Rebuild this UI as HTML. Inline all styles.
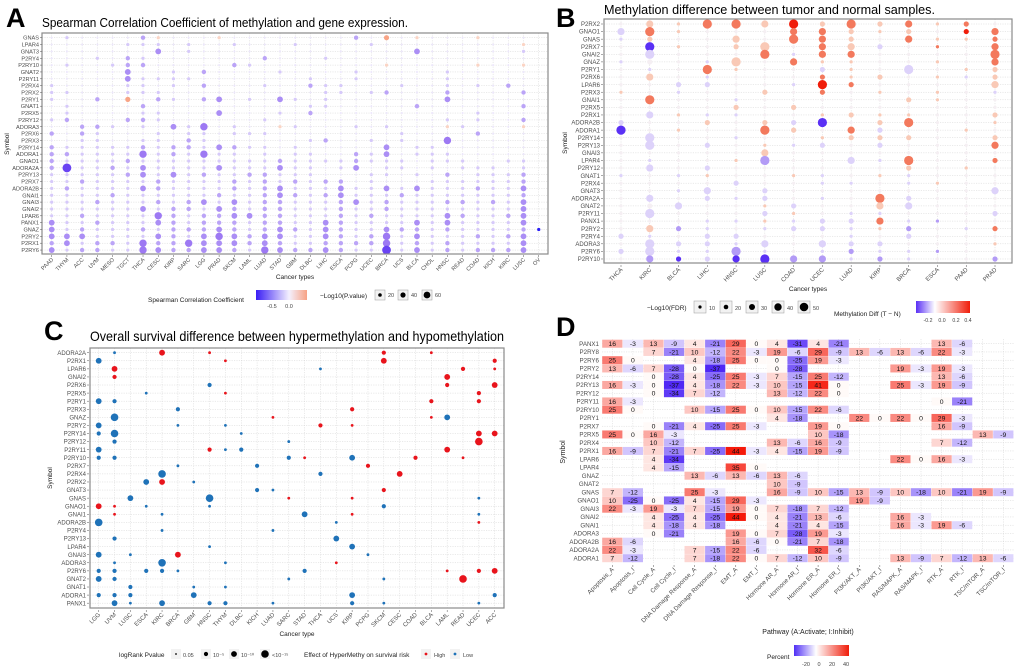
<!DOCTYPE html>
<html><head><meta charset="utf-8">
<style>
html,body{margin:0;padding:0;background:#fff;}
svg{display:block;font-family:"Liberation Sans",Arial,sans-serif;}
</style></head>
<body>
<svg id="fig" width="1020" height="670" viewBox="0 0 1020 670" xmlns="http://www.w3.org/2000/svg">
<defs>
<linearGradient id="gA" x1="0" x2="1" y1="0" y2="0"><stop offset="0" stop-color="#3a1ef5"/><stop offset="0.65" stop-color="#f4f0fe"/><stop offset="1" stop-color="#f7a284"/></linearGradient>
<linearGradient id="gB" x1="0" x2="1" y1="0" y2="0"><stop offset="0" stop-color="#5a30f5"/><stop offset="0.35" stop-color="#ffffff"/><stop offset="1" stop-color="#f01d0a"/></linearGradient>
<linearGradient id="gD" x1="0" x2="1" y1="0" y2="0"><stop offset="0" stop-color="#5030f5"/><stop offset="0.4" stop-color="#ffffff"/><stop offset="1" stop-color="#f01d0a"/></linearGradient>
</defs>
</svg>
<script>
// ---------- Panel A data ----------
const aCancers=["PAAD","THYM","ACC","UVM","MESO","TGCT","THCA","CESC","KIRP","SARC","LGG","PRAD","SKCM","LAML","LUAD","STAD","GBM","DLBC","LIHC","ESCA","PCPG","UCEC","BRCA","UCS","BLCA","CHOL","HNSC","READ","COAD","KICH","KIRC","LUSC","OV"];
const aGenes=["GNAS","LPAR4","GNAT3","P2RY4","P2RY10","GNAT2","P2RY11","P2RX4","P2RX2","P2RY1","GNAT1","P2RX5","P2RY12","ADORA3","P2RX6","P2RX3","P2RY14","ADORA1","GNAO1","ADORA2A","P2RY13","P2RX7","ADORA2B","GNAI1","GNAI3","GNAI2","LPAR6","PANX1","GNAZ","P2RY2","P2RX1","P2RY6"];
const aCells=[
"0100002r000"+"r0000000020"+"R0r000r000.",
"00000111010"+"01000100001"+"000000000r.",
"00000003010"+"00000000000"+"0030000001.",
"00010210000"+"00020001000"+"0000000000.",
"01001220000"+"02100000000"+"r00000r00r.",
"00000300102"+"00001000010"+"0000100000.",
"00000311110"+"00000010010"+"0000100000.",
"10000110102"+"00010021100"+"0100101020.",
"11000111000"+"00000001101"+"2000200002.",
"10020R02102"+"30103101000"+"0000300000.",
"01000020000"+"00000011000"+"0020000002.",
"01000011000"+"30001020000"+"0000001000.",
"12000221000"+"00010000000"+"0000101002.",
"00221010314"+"0100r100010"+"1000r1000r.",
"20210001011"+"01110000000"+"0100002000.",
"00110011021"+"00000012001"+"0100400000.",
"21111121221"+"32110100000"+"3011000000.",
"22111141214"+"11010110021"+"3011100000.",
"21111211111"+"11112111121"+"1101110011.",
"25112131111"+"31113110130"+"1101011101.",
"11111231312"+"11221110001"+"1010201112.",
"11211112111"+"12121212201"+"0001111112.",
"12111132111"+"12123111311"+"3131112113.",
"11112111111"+"21123212311"+"1211111112.",
"11121112123"+"13122111231"+"2111221213.",
"11111131221"+"32122111211"+"2111111113.",
"11211114212"+"23322111212"+"1111321123.",
"31121113212"+"22122113211"+"1131311113.",
"31211121222"+"32123213211"+"322121111 2D".replace(" ",""),
"33311113213"+"43233113212"+"4131112123.",
"23122142243"+"33232112222"+"4121211113.",
"31221143223"+"32143223211"+"5131212223."
];
// ---------- Panel B data ----------
const bCancers=["THCA","KIRC","BLCA","LIHC","HNSC","LUSC","COAD","UCEC","LUAD","KIRP","BRCA","ESCA","PAAD","PRAD"];
const bGenes=["P2RX2","GNAO1","GNAS","P2RX7","GNAI2","GNAZ","P2RY1","P2RX6","LPAR6","P2RX3","GNAI1","P2RX5","P2RX1","ADORA2B","ADORA1","P2RY14","P2RY13","GNAI3","LPAR4","P2RY12","GNAT1","P2RX4","GNAT3","ADORA2A","GNAT2","P2RY11","PANX1","P2RY2","P2RY4","ADORA3","P2RY6","P2RY10"];
const bCells=[
"w1p3p1r4r4p3R4p2r4p2r3p1r2w1",
"l3r4p1w1w1w1r3r3p2p1p2w1R2r3",
"l1p2w1w1p3w1r4r3p2w1r3p1p1r2",
"w1B4p1w1p2p4w1r3p3l2w1r1w1r3",
"w1l4w1w1w1r4l1r3r3w1w1w1w1r4",
"l1w2w1l1p4w1r3p1p1w1w1p1w1r3",
"w1l1w1r4p1w1w1l2p1w1l4w1p1p2",
"w1p3w1l1w1w1w1r2p1p2w1p1l1p2",
"w1w1l2l2w1w1l1R4r2w1w1w1w1p3",
"p1w1l1w1w1p2w1r2w1p1w1p1w1l1",
"w1r4w1w1l1w1w1w1w1w1p2p1w1w1",
"w1w1w1w1p2w1p2w1w1w1w1w1w1w1",
"w1l3p1l1l1w1w1p1p2p1p1w1w1p2",
"l2w1w1p2w1p2l2B4w1p2r4w1w1p1",
"B4w1p1w1w1r4p2w1r3l2w1w1p1w1",
"w1l4w1w1l1w1w1p1p2p2p2w1w1p2",
"w1l4w1l2w1p1l1l2w1l2w1w1w1r3",
"w1w1w1w1w1p3w1w1w1w1w1w1w1w1",
"w1l1w1w1p1b4w1w1l3l1r4w1w1r2",
"w1l3w1l2w1w1w1w1w1w1p2w1p1w1",
"l1w1l1p1w1w1p1l1w1p1l1w1w1w1",
"w1w1w1w1l2w1w1l1l1w1l1p1w1w1",
"w1w1l1l3w1l2w1w1w1w1w1w1w1l3",
"w1l3w1l2l1l2w1l1w1r4l2w1w1w1",
"w1w2l3w1w1p1l2w1w1p3l3w1w1w1",
"w1l4w1w1w1l2p1w1l1l1w1w1w1l2",
"w1w1w1l1l1p1l1l2l2r3l1b1w1w1",
"w1p3b2l1w1l1l2l2l1p1b2w1l1r2",
"l2l1w1l2l2w1w1w1l1w1l2w1w1w1",
"w1l4l2l2l1l3w1l3l2l2w1w1w1p1",
"l2l4l1l1b4l1w1l1b2l1l1b1w1w1",
"w1b3B2l2B3B4b3b3l1b2l1w1w1b2"
];
// ---------- Panel C data ----------
const cCancers=["LGG","UVM","LUSC","ESCA","KIRC","BRCA","GBM","HNSC","THYM","DLBC","KICH","LUAD","SARC","STAD","THCA","UCS","KIRP","PCPG","SKCM","CESC","COAD","BLCA","LAML","READ","UCEC","ACC"];
const cGenes=["ADORA2A","P2RX1","LPAR6","GNAI2","P2RX6","P2RX5","P2RY1","P2RX3","GNAZ","P2RY2","P2RY14","P2RY12","P2RY11","P2RY10","P2RX7","P2RX4","P2RX2","GNAT3","GNAS","GNAO1","GNAI1","ADORA2B","P2RY4","P2RY13","LPAR4","GNAI3","ADORA3","P2RY6","GNAT2","GNAT1","ADORA1","PANX1"];
const cPoints=[
"ADORA2A UVM b1","ADORA2A KIRC r3","ADORA2A HNSC r1","ADORA2A SKCM r2","ADORA2A BLCA r1",
"P2RX1 LGG b3","P2RX1 THYM r1","P2RX1 SKCM r3","P2RX1 ACC r2",
"LPAR6 UVM r3","LPAR6 THCA b1","LPAR6 READ r2","LPAR6 ACC r1",
"GNAI2 UVM r2","GNAI2 LAML r3",
"P2RX6 HNSC b2","P2RX6 LAML r2","P2RX6 ACC r3",
"P2RX5 ESCA b1","P2RX5 THYM r1","P2RX5 UCEC r2",
"P2RY1 LGG b3","P2RY1 UVM b2","P2RY1 BLCA r2","P2RY1 UCEC r2",
"P2RX3 BRCA b2","P2RX3 KIRP r2",
"GNAZ UVM b4","GNAZ LUAD r1","GNAZ BLCA r1","GNAZ LAML b3",
"P2RY2 LGG b3","P2RY2 BRCA b1","P2RY2 THYM b1","P2RY2 THCA r2","P2RY2 KIRP r1",
"P2RY14 LGG b2","P2RY14 UVM b4","P2RY14 DLBC b1","P2RY14 UCEC r3","P2RY14 ACC r3",
"P2RY12 UVM b2","P2RY12 SARC b1","P2RY12 UCEC r4",
"P2RY11 LGG b3","P2RY11 HNSC r2","P2RY11 THYM b1","P2RY11 DLBC b2","P2RY11 LAML r3",
"P2RY10 LGG b2","P2RY10 UVM b2","P2RY10 SARC b2","P2RY10 STAD r1","P2RY10 KIRP b3","P2RY10 COAD r2","P2RY10 READ r1",
"P2RX7 BRCA b1","P2RX7 KICH b2","P2RX7 PCPG r2",
"P2RX4 KIRC b4","P2RX4 THCA b2","P2RX4 CESC r3",
"P2RX2 ESCA b3","P2RX2 KIRC r3","P2RX2 GBM b1",
"GNAT3 KICH b2","GNAT3 LUAD b1","GNAT3 SKCM r2",
"GNAS LUSC b3","GNAS HNSC b4","GNAS SARC r1","GNAS KIRP r1","GNAS UCEC b1",
"GNAO1 LGG r3","GNAO1 UVM r1","GNAO1 ESCA b1","GNAO1 HNSC b1","GNAO1 SKCM b2",
"GNAI1 UVM r1","GNAI1 KIRC b1","GNAI1 STAD b3","GNAI1 KIRP r1","GNAI1 UCEC b1",
"ADORA2B LGG b4","ADORA2B UCS b1","ADORA2B UCEC r1",
"P2RY4 KIRC b1","P2RY4 LUAD b1",
"P2RY13 UVM b2","P2RY13 UCS b3",
"LPAR4 HNSC b1","LPAR4 KIRP b3",
"GNAI3 LGG b3","GNAI3 LUSC b1","GNAI3 BRCA r3","GNAI3 PCPG b1",
"ADORA3 UVM b1","ADORA3 KIRC b4","ADORA3 THYM b1","ADORA3 UCS r1",
"P2RY6 LGG b2","P2RY6 UVM b2","P2RY6 ESCA b2","P2RY6 KIRC b2","P2RY6 BRCA b1","P2RY6 STAD b2","P2RY6 LAML r1","P2RY6 UCEC r2","P2RY6 ACC r3",
"GNAT2 LGG b3","GNAT2 UVM b2","GNAT2 SARC b1","GNAT2 SKCM b1","GNAT2 READ r4",
"GNAT1 LUSC b2","GNAT1 GBM b1","GNAT1 THYM b1",
"ADORA1 LGG b2","ADORA1 UVM b2","ADORA1 LUSC b2","ADORA1 GBM b3","ADORA1 KIRP b3","ADORA1 ACC b2",
"PANX1 UVM b3","PANX1 LUSC b1","PANX1 KIRC b3","PANX1 HNSC b2","PANX1 THYM b2","PANX1 LUAD b1","PANX1 KIRP b2","PANX1 SKCM b1","PANX1 UCEC b1"
];
// ---------- Panel D data ----------
const dPathways=["Apoptosis_A","Apoptosis_I","Cell Cycle_A","Cell Cycle_I","DNA Damage Response_A","DNA Damage Response_I","EMT_A","EMT_I","Hormone AR_A","Hormone AR_I","Hormone ER_A","Hormone ER_I","PI3K/AKT_A","PI3K/AKT_I","RAS/MAPK_A","RAS/MAPK_I","RTK_A","RTK_I","TSC/mTOR_A","TSC/mTOR_I"];
const dGenes=["PANX1","P2RY8","P2RY6","P2RY2","P2RY14","P2RY13","P2RY12","P2RY11","P2RY10","P2RY1","P2RX7","P2RX5","P2RX4","P2RX1","LPAR6","LPAR4","GNAZ","GNAT2","GNAS","GNAO1","GNAI3","GNAI2","GNAI1","ADORA3","ADORA2B","ADORA2A","ADORA1"];
const N=null;
const dValues=[
[16,-3,13,-9,4,-21,29,0,4,-31,4,-21,N,N,N,N,13,-6,N,N],
[N,N,7,-21,10,-12,22,-3,19,-6,29,-9,13,-6,13,-6,22,-3,N,N],
[25,0,N,N,4,-18,25,0,0,-25,19,-3,N,N,N,N,N,N,N,N],
[13,-6,7,-28,0,-37,N,N,0,-28,N,N,N,N,19,-3,19,-3,N,N],
[N,N,0,-28,4,-25,25,-3,7,-15,25,-12,N,N,N,N,13,-6,N,N],
[16,-3,0,-37,4,-18,22,-3,10,-15,41,0,N,N,25,-3,19,-9,N,N],
[N,N,0,-34,7,-12,N,N,13,-12,22,0,N,N,N,N,N,N,N,N],
[16,-3,N,N,N,N,N,N,N,N,N,N,N,N,N,N,0,-21,N,N],
[25,0,N,N,10,-15,25,0,10,-15,22,-6,N,N,N,N,N,N,N,N],
[N,N,N,N,N,N,N,N,4,-18,N,N,22,0,22,0,29,-3,N,N],
[N,N,0,-21,4,-25,25,-3,N,N,19,0,N,N,N,N,16,-9,N,N],
[25,0,16,-3,N,N,N,N,N,N,10,-18,N,N,N,N,N,N,13,-9],
[N,N,10,-12,N,N,N,N,13,-6,16,-9,N,N,N,N,7,-12,N,N],
[16,-9,7,-21,7,-25,44,-3,4,-15,19,-9,N,N,N,N,N,N,N,N],
[N,N,4,-34,N,N,N,N,N,N,N,N,N,N,22,0,16,-3,N,N],
[N,N,4,-15,N,N,35,0,N,N,N,N,N,N,N,N,N,N,N,N],
[N,N,N,N,13,-6,13,-6,13,-6,N,N,N,N,N,N,N,N,N,N],
[N,N,N,N,N,N,N,N,10,-9,N,N,N,N,N,N,N,N,N,N],
[7,-12,N,N,25,-3,N,N,16,-9,10,-15,13,-9,10,-18,10,-21,19,-9],
[10,-25,0,-25,4,-15,29,-3,N,N,N,N,19,-9,N,N,N,N,N,N],
[22,-3,19,-3,7,-15,19,0,7,-18,7,-12,N,N,N,N,N,N,N,N],
[N,N,4,-25,4,-25,44,0,4,-21,13,-6,N,N,16,-3,N,N,N,N],
[N,N,4,-18,4,-18,N,N,4,-21,4,-15,N,N,16,-3,19,-6,N,N],
[N,N,0,-21,N,N,19,0,7,-28,19,-3,N,N,N,N,N,N,N,N],
[16,-6,N,N,N,N,16,-6,0,-21,7,-18,N,N,N,N,N,N,N,N],
[22,-3,N,N,7,-15,22,-6,N,N,32,-6,N,N,N,N,N,N,N,N],
[7,-12,N,N,7,-18,22,0,7,-12,10,-9,N,N,13,-9,7,-12,13,-6]
];

const NS="http://www.w3.org/2000/svg";
const svg=document.getElementById('fig');
function el(tag,attrs,parent){const e=document.createElementNS(NS,tag);for(const k in attrs)e.setAttribute(k,attrs[k]);(parent||svg).appendChild(e);return e;}
function txt(s,attrs,parent){const e=el('text',attrs,parent);e.textContent=s;return e;}
function grp(){return el('g',{});}

// scales
const ax=i=>51.7+i*15.22, ay=j=>37.7+j*6.85;
const bx=i=>621+i*28.77, by=j=>24+j*7.58;
const cx=i=>98.7+i*15.84, cy=j=>352.7+j*8.08;
const dx=i=>612.3+i*20.58, dy=j=>343.7+j*8.25;

function panelFrame(x0,y0,x1,y1,nx,xf,ny,yf,name){
  const g=grp();
  
  
  for(let i=0;i<nx;i++){el('line',{x1:xf(i),x2:xf(i),y1:y0,y2:y1,stroke:'#d4d4d4','stroke-width':0.5,'stroke-dasharray':'1.2,1.2'},g);}
  for(let j=0;j<ny;j++){el('line',{x1:x0,x2:x1,y1:yf(j),y2:yf(j),stroke:'#d4d4d4','stroke-width':0.5,'stroke-dasharray':'1.2,1.2'},g);}
  return g;
}
function box(x0,y0,x1,y1,name){
  const r=el('rect',{x:x0,y:y0,width:x1-x0,height:y1-y0,fill:'none',stroke:'#8a8a8a','stroke-width':1.2});
  
  
}
function yLabels(list,xr,yf,fs,name,ticks){
  const g=grp();
  
  
  list.forEach((s,j)=>{txt(s,{x:xr,y:yf(j)+fs*0.36,'font-size':fs,'text-anchor':'end',fill:'#4d4d4d'},g);
    if(ticks) el('line',{x1:xr+1,x2:xr+3,y1:yf(j),y2:yf(j),stroke:'#555','stroke-width':0.5},g);});
}
function xLabels(list,xf,ytop,fs,name){
  const g=grp();
  
  
  list.forEach((s,i)=>{const X=xf(i)+2,Y=ytop+5;
    txt(s,{x:X,y:Y,'font-size':fs,'text-anchor':'end',fill:'#4d4d4d',transform:`rotate(-45 ${X} ${Y})`},g);
    el('line',{x1:xf(i),x2:xf(i),y1:ytop,y2:ytop+2,stroke:'#555','stroke-width':0.5},g);});
}
function label(s,attrs,name){const t=txt(s,attrs);return t;}

// ================= Panel A =================
label('A',{x:6,y:27,'font-size':27,'font-weight':'bold'},'panel-a-letter');
label('Spearman Correlation Coefficient of methylation and gene expression.',{x:42,y:27,'font-size':13,textLength:366,lengthAdjust:'spacingAndGlyphs'},'panel-a-title');
panelFrame(42,33,548,254,aCancers.length,ax,aGenes.length,ay,'panel-a');
const aCol={'0':'#ece6fc','1':'#d6c9fa','2':'#bba4f7','3':'#ab8ef5','4':'#9d79f3','5':'#6a44f3','r':'#fbd4c4','R':'#f8a486','D':'#2a1ef5'};
const aRad={'0':1.0,'1':1.6,'2':2.2,'3':2.9,'4':3.7,'5':4.4,'r':1.6,'R':2.6,'D':1.6};
const aDots=grp();


aCells.forEach((row,j)=>{for(let i=0;i<aCancers.length;i++){const c=row[i];if(!c||c==='.')continue;
  const d=el('circle',{cx:ax(i),cy:ay(j),r:aRad[c],fill:aCol[c]},aDots);
  
  }});
box(42,33,548,254,'panel-a');
yLabels(aGenes,39,ay,5.6,'panel-a',true);
xLabels(aCancers,ax,255,5.6,'panel-a');
label('Symbol',{x:9,y:144,'font-size':6.5,'text-anchor':'middle',transform:'rotate(-90 9 144)',fill:'#222'},'panel-a-y-axis-title');
label('Cancer types',{x:295,y:279,'font-size':6.5,'text-anchor':'middle',fill:'#222'},'panel-a-x-axis-title');
label('Spearman Correlation Coefficient',{x:148,y:302,'font-size':6.5,fill:'#222'},'panel-a-color-legend-title');
{const r=el('rect',{x:256,y:290,width:51,height:10,fill:'url(#gA)'});}
label('-0.5',{x:272,y:308,'font-size':5.5,'text-anchor':'middle',fill:'#444'},'panel-a-color-tick');
label('0.0',{x:289,y:308,'font-size':5.5,'text-anchor':'middle',fill:'#444'},'panel-a-color-tick');
label('−Log10(P.value)',{x:320,y:298,'font-size':6.5,fill:'#222'},'panel-a-size-legend-title');
[[380,1.8,'20'],[403,2.6,'40'],[427,3.4,'60']].forEach(([x,r,s])=>{
  const b=el('rect',{x:x-5,y:290,width:10,height:10,fill:'#f2f2f2',stroke:'#999','stroke-width':0.5});
  
  
  el('circle',{cx:x,cy:295,r:r,fill:'#000'});
  label(s,{x:x+8,y:297,'font-size':5.5,fill:'#444'},'panel-a-size-label');});

// ================= Panel B =================
label('B',{x:556,y:27,'font-size':27,'font-weight':'bold'},'panel-b-letter');
label('Methylation difference between tumor and normal samples.',{x:604,y:14,'font-size':13,textLength:331,lengthAdjust:'spacingAndGlyphs'},'panel-b-title');
panelFrame(604,19,1012,263,bCancers.length,bx,bGenes.length,by,'panel-b');
const bCol={R:'#f01d0a',r:'#f3795d',p:'#f9c9b6',w:'#f5eff3',l:'#ddd2fa',b:'#b39bf6',B:'#5a30f5'};
const bRad={'1':1.6,'2':2.6,'3':3.6,'4':4.6};
const bDots=grp();


bCells.forEach((row,j)=>{for(let i=0;i<bCancers.length;i++){const c=row[2*i],s=row[2*i+1];if(!c||c==='.')continue;
  const d=el('circle',{cx:bx(i),cy:by(j),r:bRad[s],fill:bCol[c]},bDots);
  
  }});
box(604,19,1012,263,'panel-b');
yLabels(bGenes,600,by,6,'panel-b',true);
xLabels(bCancers,bx,265,6,'panel-b');
label('Symbol',{x:567,y:143,'font-size':6.5,'text-anchor':'middle',transform:'rotate(-90 567 143)',fill:'#222'},'panel-b-y-axis-title');
label('Cancer types',{x:808,y:291,'font-size':6.5,'text-anchor':'middle',fill:'#222'},'panel-b-x-axis-title');
label('−Log10(FDR)',{x:647,y:310,'font-size':6.5,fill:'#222'},'panel-b-size-legend-title');
[[700,1.6,'10'],[726,2.3,'20'],[752,3.0,'30'],[778,3.7,'40'],[804,4.3,'50']].forEach(([x,r,s])=>{
  const b=el('rect',{x:x-6,y:301,width:12,height:12,fill:'#f2f2f2',stroke:'#999','stroke-width':0.5});
  
  
  el('circle',{cx:x,cy:307,r:r,fill:'#000'});
  label(s,{x:x+9,y:310,'font-size':5.5,fill:'#444'},'panel-b-size-label');});
label('Methylation Diff (T − N)',{x:834,y:316,'font-size':6.5,fill:'#222'},'panel-b-color-legend-title');
{const r=el('rect',{x:916,y:301,width:54,height:12,fill:'url(#gB)'});}
[['-0.2',928],['0.0',942],['0.2',956],['0.4',968]].forEach(([s,x])=>label(s,{x:x,y:322,'font-size':5.2,'text-anchor':'middle',fill:'#444'},'panel-b-color-tick'));

// ================= Panel C =================
label('C',{x:44,y:340,'font-size':27,'font-weight':'bold'},'panel-c-letter');
label('Overall survival difference between hypermethylation and hypomethylation',{x:90,y:341,'font-size':14,textLength:414,lengthAdjust:'spacingAndGlyphs'},'panel-c-title');
panelFrame(90,348,504,608,cCancers.length,cx,cGenes.length,cy,'panel-c');
const cRad={'1':1.4,'2':2.1,'3':2.9,'4':3.8};
const cCol={r:'#e8141c',b:'#1f72b8'};
const cDots=grp();


cPoints.forEach(p=>{const [g,c,v]=p.split(' ');const i=cCancers.indexOf(c),j=cGenes.indexOf(g);
  const d=el('circle',{cx:cx(i),cy:cy(j),r:cRad[v[1]],fill:cCol[v[0]]},cDots);
  
  });
box(90,348,504,608,'panel-c');
yLabels(cGenes,86,cy,6,'panel-c',true);
xLabels(cCancers,cx,610,6,'panel-c');
label('Symbol',{x:52,y:478,'font-size':6.5,'text-anchor':'middle',transform:'rotate(-90 52 478)',fill:'#222'},'panel-c-y-axis-title');
label('Cancer type',{x:297,y:636,'font-size':6.5,'text-anchor':'middle',fill:'#222'},'panel-c-x-axis-title');
label('logRank Pvalue',{x:119,y:657,'font-size':6.5,fill:'#222'},'panel-c-size-legend-title');
[[176,0.9,'0.05'],[206,2.1,'10⁻⁵'],[234,2.9,'10⁻¹⁰'],[265,3.8,'<10⁻¹⁵']].forEach(([x,r,s])=>{
  const b=el('rect',{x:x-5,y:649,width:10,height:10,fill:'#f2f2f2'});
  
  
  el('circle',{cx:x,cy:654,r:r,fill:'#000'});
  label(s,{x:x+7,y:657,'font-size':5.5,fill:'#444'},'panel-c-size-label');});
label('Effect of HyperMethy on survival risk',{x:304,y:657,'font-size':6.5,fill:'#222'},'panel-c-color-legend-title');
[[426,'#e8141c','High'],[455,'#1f72b8','Low']].forEach(([x,c,s])=>{
  el('rect',{x:x-5,y:649,width:10,height:10,fill:'#f2f2f2'});
  const d=el('circle',{cx:x,cy:654,r:1.4,fill:c});
  
  
  label(s,{x:x+8,y:657,'font-size':5.5,fill:'#444'},'panel-c-color-label');});

// ================= Panel D =================
label('D',{x:556,y:336,'font-size':27,'font-weight':'bold'},'panel-d-letter');
panelFrame(602,339,1014,563,dPathways.length,dx,dGenes.length,dy,'panel-d');
function dcol(v){
  if(v>=0){const t=Math.min(v/44,1);return `rgb(${Math.round(255-10*t)},${Math.round(250-225*t)},${Math.round(248-238*t)})`;}
  const t=Math.min(-v/37,1);return `rgb(${Math.round(250-170*t)},${Math.round(248-208*t)},${Math.round(255-10*t)})`;
}
const dCells=grp();


dValues.forEach((row,j)=>row.forEach((v,i)=>{if(v===null)return;
  const r=el('rect',{x:dx(i)-10.1,y:dy(j)-4,width:20.2,height:8,fill:dcol(v)},dCells);
  
  
  txt(String(v),{x:dx(i),y:dy(j)+2.4,'font-size':6.8,'text-anchor':'middle',fill:'#111'},dCells);}));
yLabels(dGenes,599,dy,6.2,'panel-d',false);
xLabels(dPathways,dx,565,6.2,'panel-d');
label('Symbol',{x:565,y:452,'font-size':7,'text-anchor':'middle',transform:'rotate(-90 565 452)',fill:'#222'},'panel-d-y-axis-title');
label('Pathway (A:Activate; I:Inhibit)',{x:808,y:634,'font-size':7,'text-anchor':'middle',fill:'#222'},'panel-d-x-axis-title');
label('Percent',{x:767,y:659,'font-size':6.5,fill:'#222'},'panel-d-color-legend-title');
{const r=el('rect',{x:794,y:645,width:55,height:11,fill:'url(#gD)'});}
[['-20',806],['0',819],['20',832],['40',846]].forEach(([s,x])=>label(s,{x:x,y:666,'font-size':5.5,'text-anchor':'middle',fill:'#444'},'panel-d-color-tick'));
</script>
</body></html>
